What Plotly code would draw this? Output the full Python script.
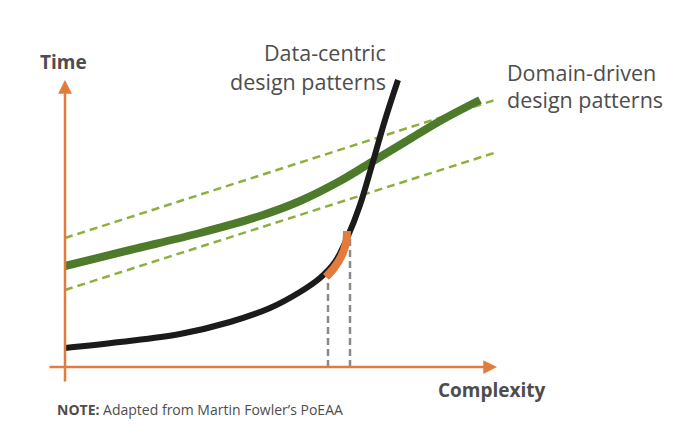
import plotly.graph_objects as go

# ---- data (complexity, time) in chart units; origin at the axes crossing ----
data_centric_x = [0, 55, 115, 165, 205, 235, 255, 270, 283, 295, 307, 320, 333]
data_centric_y = [19, 25, 33, 45, 59, 75, 89, 105, 131, 162, 202, 247, 287]

highlight_x = [261, 269, 276, 281, 282]
highlight_y = [90, 99, 110, 124, 136]

domain_x = [0, 65, 135, 195, 235, 275, 305, 340, 375, 415]
domain_y = [101, 117, 134, 151, 166, 186, 204, 225, 246, 267]

upper_band_x = [0, 430]
upper_band_y = [129, 267]
lower_band_x = [0, 432]
lower_band_y = [77, 215]

crossover_x = [263, 285]
crossover_y = [87, 135]

label_data_centric = ["Data-centric", "design patterns"]
label_domain = ["Domain-driven", "design patterns"]
axis_x_label = "Complexity"
axis_y_label = "Time"
note_bold = "NOTE:"
note_text = " Adapted from Martin Fowler\u2019s PoEAA"

ORANGE = "#E27B3C"
BLACK = "#1b1b1b"
GREEN = "#4E7A2B"
LIGHTGREEN = "#8EAF3E"
GRAY = "#8a8a8a"
TEXT = "#4d4d4d"
FONT = "Open Sans"

fig = go.Figure()

# gray dashed vertical drops
for cx, cy in zip(crossover_x, crossover_y):
    fig.add_trace(go.Scatter(x=[cx, cx], y=[0, cy], mode="lines",
                             line=dict(color=GRAY, width=2.5, dash="7px,4px"),
                             hoverinfo="skip"))

# green band dashed lines
fig.add_trace(go.Scatter(x=upper_band_x, y=upper_band_y, mode="lines",
                         line=dict(color=LIGHTGREEN, width=2.5, dash="8px,5px"),
                         hoverinfo="skip"))
fig.add_trace(go.Scatter(x=lower_band_x, y=lower_band_y, mode="lines",
                         line=dict(color=LIGHTGREEN, width=2.5, dash="8px,5px"),
                         hoverinfo="skip"))

# domain-driven curve
fig.add_trace(go.Scatter(x=domain_x, y=domain_y, mode="lines",
                         line=dict(color=GREEN, width=8, shape="spline", smoothing=1.0),
                         hoverinfo="skip"))

# data-centric curve
fig.add_trace(go.Scatter(x=data_centric_x, y=data_centric_y, mode="lines",
                         line=dict(color=BLACK, width=6, shape="spline", smoothing=1.0),
                         hoverinfo="skip"))

# orange highlight
fig.add_trace(go.Scatter(x=highlight_x, y=highlight_y, mode="lines",
                         line=dict(color=ORANGE, width=8, shape="spline"),
                         hoverinfo="skip"))

annotations = []
# axes with arrowheads
annotations.append(dict(x=432, y=0, ax=-17, ay=0, xref="x", yref="y", axref="x", ayref="y",
                        showarrow=True, arrowhead=2, arrowsize=1.1, arrowwidth=2.5,
                        arrowcolor=ORANGE, text="", standoff=0))
annotations.append(dict(x=0, y=287, ax=0, ay=-16, xref="x", yref="y", axref="x", ayref="y",
                        showarrow=True, arrowhead=2, arrowsize=1.1, arrowwidth=2.5,
                        arrowcolor=ORANGE, text="", standoff=0))

annotations.append(dict(x=-2, y=305, xref="x", yref="y", text="<b>" + axis_y_label + "</b>",
                        showarrow=False, font=dict(family=FONT, size=19, color=TEXT)))
annotations.append(dict(x=483, y=-23, xref="x", yref="y", text="<b>" + axis_x_label + "</b>",
                        showarrow=False, xanchor="right", font=dict(family=FONT, size=19, color=TEXT)))
annotations.append(dict(x=-10, y=-42, xref="x", yref="y",
                        text="<b>" + note_bold + "</b>" + note_text,
                        showarrow=False, xanchor="left", font=dict(family=FONT, size=14, color=TEXT)))

for t, yy in zip(label_data_centric, [315, 286]):
    annotations.append(dict(x=323, y=yy, xref="x", yref="y", text=t, showarrow=False,
                            xanchor="right", font=dict(family=FONT, size=21.5, color=TEXT)))
for t, yy in zip(label_domain, [295, 268]):
    annotations.append(dict(x=440, y=yy, xref="x", yref="y", text=t, showarrow=False,
                            xanchor="left", font=dict(family=FONT, size=21.5, color=TEXT)))

# page body has an 8px margin: figure is sized/ranged so the chart lands at page pixels
fig.update_layout(
    width=688, height=427,
    margin=dict(l=0, r=0, t=0, b=0),
    paper_bgcolor="white", plot_bgcolor="white",
    showlegend=False,
    xaxis=dict(range=[-57, 631], visible=False, fixedrange=True),
    yaxis=dict(range=[-68, 359], visible=False, fixedrange=True),
    annotations=annotations,
)

fig.write_html("out.html")
